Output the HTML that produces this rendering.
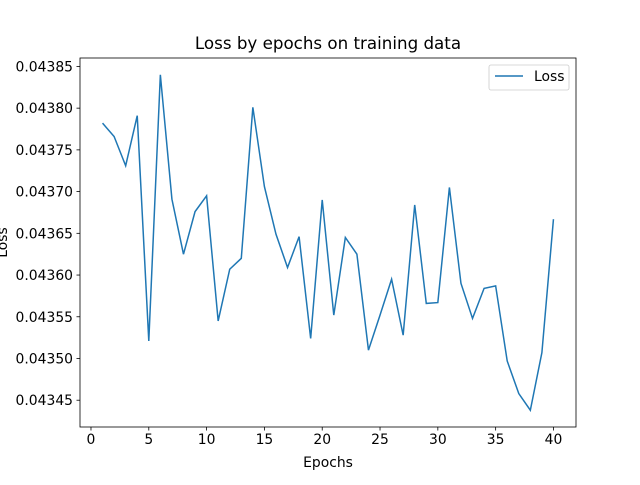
<!DOCTYPE html>
<html><head><meta charset="utf-8"><style>
body{margin:0;background:#fff}
text{font-family:"DejaVu Sans","Liberation Sans",sans-serif;fill:#000}
</style></head><body>
<svg id="chart" width="640" height="480" xmlns="http://www.w3.org/2000/svg">
<rect width="640" height="480" fill="#fff"/>
</svg>
<script>
const epochs=[1,2,3,4,5,6,7,8,9,10,11,12,13,14,15,16,17,18,19,20,21,22,23,24,25,26,27,28,29,30,31,32,33,34,35,36,37,38,39,40];
const loss=[.043782,.043766,.043731,.043791,.043521,.043840,.043691,.043625,.043676,.043695,.043545,.043607,.043620,.043801,.043706,.043649,.043609,.043646,.043524,.043690,.043552,.043645,.043625,.043510,.043552,.043595,.043528,.043684,.043566,.043567,.043705,.043590,.043548,.043584,.043587,.043497,.043458,.043438,.043507,.043667];
const xTicks=[0,5,10,15,20,25,30,35,40];
const yTicks=[0.04345,0.04350,0.04355,0.04360,0.04365,0.04370,0.04375,0.04380,0.04385];
const svg=document.getElementById('chart');const NS='http://www.w3.org/2000/svg';
const L=80,R=576,T=58,B=427;
const xmin=Math.min(...epochs),xmax=Math.max(...epochs),xm=(xmax-xmin)*0.05;
const ymin=Math.min(...loss),ymax=Math.max(...loss),ym=(ymax-ymin)*0.05;
const X=v=>L+(v-(xmin-xm))/((xmax+xm)-(xmin-xm))*(R-L);
const Y=v=>B-(v-(ymin-ym))/((ymax+ym)-(ymin-ym))*(B-T);
function el(t,a,txt){const e=document.createElementNS(NS,t);for(const k in a)e.setAttribute(k,a[k]);if(txt!=null)e.textContent=txt;svg.appendChild(e);return e;}
xTicks.forEach(v=>{const x=X(v);
const t=el('line',{x1:x,x2:x,y1:B,y2:B+3.5,stroke:'#000','stroke-width':0.8});


const s=el('text',{x:x,y:B+17,'font-size':13.9,'text-anchor':'middle'},v);

});
yTicks.forEach(v=>{const y=Y(v);
const t=el('line',{x1:L-3.5,x2:L,y1:y,y2:y,stroke:'#000','stroke-width':0.8});


const s=el('text',{x:L-7,y:y+5,'font-size':13.9,'text-anchor':'end'},v.toFixed(5));

});
const line=el('polyline',{points:epochs.map((e,i)=>X(e)+','+Y(loss[i])).join(' '),fill:'none',stroke:'#1f77b4','stroke-width':1.5});


const fr=el('rect',{x:L,y:T,width:R-L,height:B-T,fill:'none',stroke:'#000','stroke-width':0.8});


const ti=el('text',{x:(L+R)/2,y:49,'font-size':16.7,'text-anchor':'middle'},'Loss by epochs on training data');


const xl=el('text',{x:(L+R)/2,y:467,'font-size':13.9,'text-anchor':'middle'},'Epochs');


const yl=el('text',{x:0,y:0,'font-size':13.9,'text-anchor':'middle',transform:'translate(7,'+((T+B)/2)+') rotate(-90)'},'Loss');


const lg=el('rect',{x:489,y:65,width:80,height:25,rx:2,fill:'#fff',stroke:'#ccc','stroke-width':0.8});


const ll=el('line',{x1:495,x2:523,y1:76,y2:76,stroke:'#1f77b4','stroke-width':1.5});


const lt=el('text',{x:534,y:81,'font-size':13.9},'Loss');


</script>
</body></html>
